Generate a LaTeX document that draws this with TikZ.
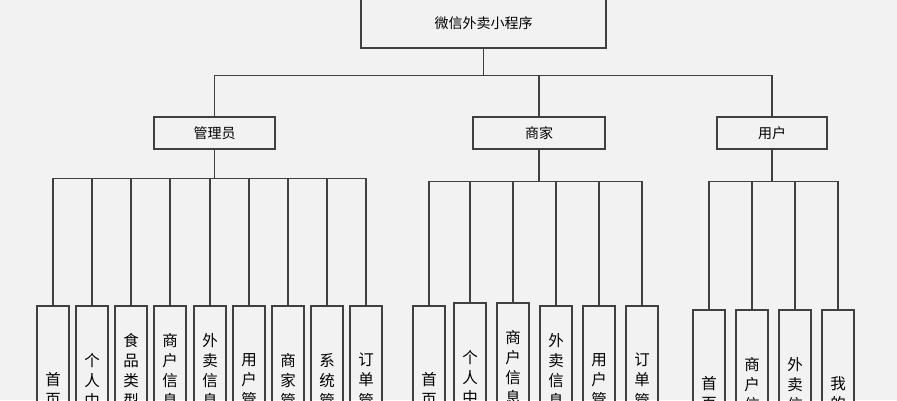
\documentclass[tikz,border=0pt]{standalone}
\usepackage{fontspec}
\setmainfont{Noto Sans CJK SC}
\begin{document}
\begin{tikzpicture}[x=1pt,y=-1pt,
	box/.style={draw=black!75, line width=1.1pt, inner sep=0pt, font=\fontsize{14}{16}\selectfont},
	leaf/.style={box, minimum width=32, minimum height=168, align=center, font=\fontsize{15.5}{20}\selectfont},
	link/.style={draw=black!75, line width=1.1pt}]
	\useasboundingbox[fill=black!5] (0,0) rectangle (897,400);
	% top levels
	\node[box, minimum width=245, minimum height=50] (root) at (483.5,23){微信外卖小程序};
	\node[box, minimum width=121, minimum height=32] (admin) at (214.5,133){管理员};
	\node[box, minimum width=132, minimum height=32] (shop) at (539,133){商家};
	\node[box, minimum width=110, minimum height=32] (user) at (772,133){用户};
	\foreach \n in {admin,shop,user}
		\draw[link] (root.south) -- ++(0,27) -| (\n.north);

	% admin children
	\foreach \x/\t [count=\i] in {53/首\\页, 92/个\\人\\中\\心, 131/食\\品\\类\\型\\管\\理,
		170/商\\户\\信\\息\\管\\理, 210/外\\卖\\信\\息\\管\\理, 249/用\\户\\管\\理,
		288/商\\家\\管\\理, 327/系\\统\\管\\理, 366/订\\单\\管\\理}{
		\node[leaf] (a\i) at (\x,390){\t};
		\draw[link] (admin.south) -- ++(0,29) -| (a\i.north);
	}

	% shop children
	\foreach \x/\y/\t [count=\i] in {429/390/首\\页, 470/387/个\\人\\中\\心, 513/387/商\\户\\信\\息\\管\\理,
		556/390/外\\卖\\信\\息\\管\\理, 599/390/用\\户\\管\\理, 642/390/订\\单\\管\\理}{
		\node[leaf] (s\i) at (\x,\y){\t};
		\draw[link] (shop.south) -- ++(0,32) -| (s\i.north);
	}

	% user children
	\foreach \x/\t [count=\i] in {709/首\\页, 752/商\\户\\信\\息, 795/外\\卖\\信\\息, 838/我\\的}{
		\node[leaf] (u\i) at (\x,394){\t};
		\draw[link] (user.south) -- ++(0,32) -| (u\i.north);
	}
\end{tikzpicture}
\end{document}
